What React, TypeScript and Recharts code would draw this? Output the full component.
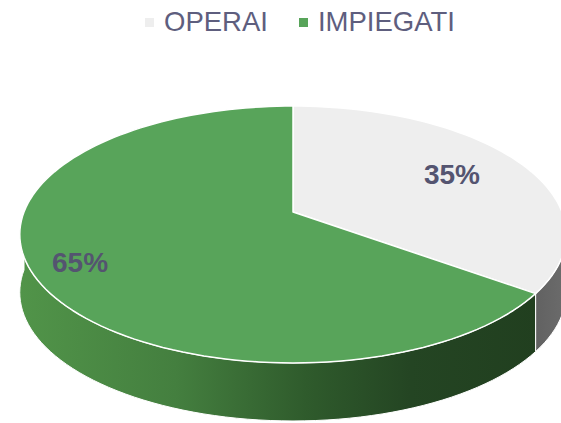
import { PieChart, Pie, Cell, Legend } from 'recharts';

const categories = ['OPERAI', 'IMPIEGATI'];
const shares = [35, 65];
const topColors = ['#EEEEEE', '#58A45A'];
const sideColors = ['url(#sideGray)', 'url(#sideGreen)'];

const data = categories.map((name, i) => ({ name, value: shares[i] }));

// fake 3D: tilt + a bit of perspective, then an extruded rim
const K = 0.175;
const FLAT = 0.463;
const DEPTH = 58;
const LABEL_R = [0.7, 0.83];
const FONT = '"Liberation Sans", Arial, sans-serif';

type Pt = [number, number];

function proj(cx: number, cy: number, R: number, r: number, deg: number): Pt {
  const t = (deg * Math.PI) / 180;
  const u = r * Math.cos(t);
  const v = r * Math.sin(t);
  const s = 1 + K * v;
  return [cx + (R * u) / s, cy - (R * FLAT * v) / s];
}

function arcPts(cx: number, cy: number, R: number, a0: number, a1: number): Pt[] {
  const n = Math.max(2, Math.ceil(Math.abs(a1 - a0) / 2));
  const pts: Pt[] = [];
  for (let i = 0; i <= n; i++) pts.push(proj(cx, cy, R, 1, a0 + ((a1 - a0) * i) / n));
  return pts;
}

function TopFace(props: any) {
  const { cx, cy, outerRadius, startAngle, endAngle, fill } = props;
  const pts = arcPts(cx, cy, outerRadius, startAngle, endAngle);
  const d = `M${cx},${cy} ` + pts.map((p) => `L${p[0].toFixed(2)},${p[1].toFixed(2)}`).join(' ') + ' Z';
  return <path d={d} fill={fill} stroke="#ffffff" strokeWidth={1.5} strokeLinejoin="round" />;
}

function SideFace(props: any) {
  const { cx, cy, outerRadius, startAngle, endAngle, fill } = props;
  const lo = Math.min(startAngle, endAngle);
  const hi = Math.max(startAngle, endAngle);
  const parts: string[] = [];
  for (const [f0, f1] of [[-180, 0], [180, 360]]) {
    const a0 = Math.max(lo, f0);
    const a1 = Math.min(hi, f1);
    if (a1 <= a0) continue;
    const top = arcPts(cx, cy, outerRadius, a0, a1);
    const bottom = top.map(([x, y]) => [x, y + DEPTH] as Pt).reverse();
    const all = [...top, ...bottom];
    parts.push('M' + all.map((p) => `${p[0].toFixed(2)},${p[1].toFixed(2)}`).join(' L') + ' Z');
  }
  if (!parts.length) return <g />;
  return <path d={parts.join(' ')} fill={fill} stroke="#ffffff" strokeWidth={1} />;
}

function renderLabel(props: any) {
  const { cx, cy, outerRadius, midAngle, percent, index } = props;
  const [x, y] = proj(cx, cy, outerRadius, LABEL_R[index] ?? 0.75, midAngle);
  return (
    <text
      x={x}
      y={y}
      textAnchor="middle"
      dominantBaseline="central"
      fill="#545470"
      fontFamily={FONT}
      fontSize={28}
      fontWeight="bold"
    >
      {`${Math.round(percent * 100)}%`}
    </text>
  );
}

// legend payload gets muddled by the two stacked pies, so build it from the categories
function LegendContent() {
  return (
    <div style={{ display: 'flex', alignItems: 'center', gap: 31, fontFamily: FONT, fontSize: 27.5, lineHeight: '30px', color: '#5e5e7e' }}>
      {categories.map((name, i) => (
        <div key={name} style={{ display: 'flex', alignItems: 'center' }}>
          <span style={{ display: 'inline-block', width: 9, height: 9, background: topColors[i], marginRight: 10 }} />
          <span>{name}</span>
        </div>
      ))}
    </div>
  );
}

export default function App() {
  return (
    <div style={{ position: 'absolute', left: 0, top: 0, background: '#ffffff' }}>
      <PieChart width={561} height={423} margin={{ top: 0, right: 0, bottom: 0, left: 0 }}>
        <defs>
          <linearGradient id="sideGreen" x1="20" y1="0" x2="540" y2="0" gradientUnits="userSpaceOnUse">
            <stop offset="0" stopColor="#519449" />
            <stop offset="0.3" stopColor="#447f3f" />
            <stop offset="0.55" stopColor="#2f5b2c" />
            <stop offset="0.75" stopColor="#244523" />
            <stop offset="1" stopColor="#213f1f" />
          </linearGradient>
          <linearGradient id="sideGray" x1="520" y1="0" x2="561" y2="0" gradientUnits="userSpaceOnUse">
            <stop offset="0" stopColor="#5c5c5c" />
            <stop offset="1" stopColor="#6a6a6a" />
          </linearGradient>
        </defs>
        <Pie
          data={data}
          dataKey="value"
          nameKey="name"
          cx={293}
          cy={212}
          outerRadius={269}
          startAngle={90}
          endAngle={-270}
          shape={SideFace}
          legendType="none"
          isAnimationActive={false}
        >
          {data.map((d, i) => (
            <Cell key={d.name} fill={sideColors[i]} />
          ))}
        </Pie>
        <Pie
          data={data}
          dataKey="value"
          nameKey="name"
          cx={293}
          cy={212}
          outerRadius={269}
          startAngle={90}
          endAngle={-270}
          shape={TopFace}
          label={renderLabel}
          labelLine={false}
          legendType="square"
          isAnimationActive={false}
        >
          {data.map((d, i) => (
            <Cell key={d.name} fill={topColors[i]} />
          ))}
        </Pie>
        <Legend
          layout="horizontal"
          align="center"
          verticalAlign="middle"
          content={LegendContent}
          wrapperStyle={{ top: 7, left: 145, width: 416, bottom: 'auto' }}
        />
      </PieChart>
    </div>
  );
}
